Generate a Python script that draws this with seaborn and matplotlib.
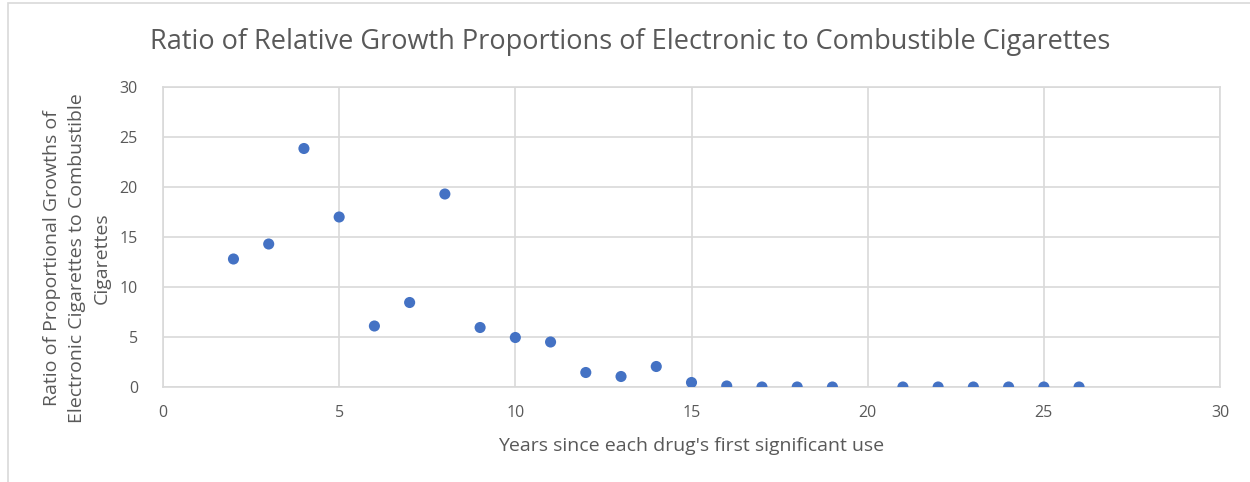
import matplotlib
matplotlib.use("Agg")
import matplotlib.pyplot as plt
from matplotlib.patches import Rectangle
import seaborn as sns
import pandas as pd

# Years since first significant use and the ratio of growth proportions
years = [2, 3, 4, 5, 6, 7, 8, 9, 10, 11, 12, 13, 14, 15, 16, 17, 18, 19,
         21, 22, 23, 24, 25, 26]
ratios = [12.8, 14.3, 23.85, 17.0, 6.1, 8.45, 19.3, 5.95, 4.95, 4.5, 1.45,
          1.05, 2.05, 0.45, 0.1, 0.0, 0.0, 0.0, 0.0, 0.0, 0.0, 0.0, 0.0, 0.0]

x_ticks = [0, 5, 10, 15, 20, 25, 30]
y_ticks = [0, 5, 10, 15, 20, 25, 30]

title = "Ratio of Relative Growth Proportions of Electronic to Combustible Cigarettes"
x_label = "Years since each drug's first significant use"
y_label = "Ratio of Proportional Growths of\nElectronic Cigarettes to Combustible\nCigarettes"

df = pd.DataFrame({"year": years, "ratio": ratios})

sns.set_theme(style="white")
plt.rcParams["font.family"] = ["Open Sans", "DejaVu Sans"]

text_color = "#595959"
grid_color = "#d9d9d9"
point_color = "#4472C4"

fig = plt.figure(figsize=(12.5, 4.82), dpi=100)
ax = fig.add_axes([163 / 1250, 1 - 387 / 482, (1220 - 163) / 1250, (387 - 87) / 482])

sns.scatterplot(data=df, x="year", y="ratio", ax=ax, color=point_color,
                s=64, edgecolor="none", zorder=3)

ax.set_xlim(0, 30)
ax.set_ylim(0, 30)
ax.set_xticks(x_ticks)
ax.set_yticks(y_ticks)
ax.grid(True, color=grid_color, linewidth=1.2)
ax.set_axisbelow(True)
for side in ["left", "right", "top", "bottom"]:
    ax.spines[side].set_color(grid_color)
    ax.spines[side].set_linewidth(1.2)

ax.tick_params(axis="both", length=0, labelsize=11.5, labelcolor=text_color)
ax.tick_params(axis="x", pad=13)
ax.tick_params(axis="y", pad=18)

ax.set_xlabel(x_label, fontsize=14, color=text_color)
ax.xaxis.set_label_coords(0.5, -(446 - 387) / 300)
ax.xaxis.label.set_va("center")

ax.set_ylabel(y_label, fontsize=14, color=text_color,
              multialignment="center", linespacing=1.5)
ax.yaxis.set_label_coords((77 - 163) / 1057, (387 - 258) / 300)
ax.yaxis.label.set_va("center")

fig.text(630 / 1250, 1 - 42 / 482, title, ha="center", va="center",
         fontsize=19.5, color=text_color)

# Light outer frame around the chart
fig.patches.append(Rectangle((7.5 / 1250, -0.1), 1.2, 1 - 3 / 482 + 0.1,
                             transform=fig.transFigure, fill=False,
                             edgecolor=grid_color, linewidth=1.2))

fig.savefig("out.png", dpi=100, facecolor="white")
